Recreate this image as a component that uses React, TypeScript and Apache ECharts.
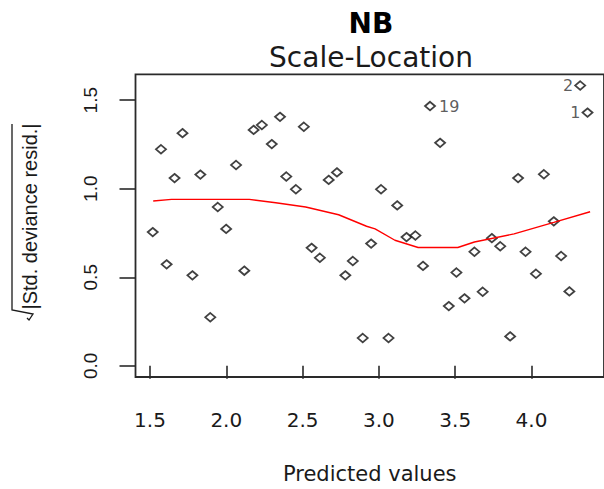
import { useEffect, useRef } from "react";
import * as echarts from "echarts";

// Fitted values (x) and sqrt(|standardized deviance residuals|) (y), ordered by x
const predicted = [
  1.518, 1.572, 1.609, 1.661, 1.713, 1.778, 1.83, 1.895, 1.944, 1.999, 2.064, 2.118, 2.179,
  2.233, 2.298, 2.352, 2.393, 2.456, 2.508, 2.559, 2.613, 2.671, 2.725, 2.78, 2.829, 2.894,
  2.949, 3.014, 3.063, 3.12, 3.181, 3.239, 3.289, 3.335, 3.401, 3.458, 3.508, 3.561, 3.626,
  3.68, 3.74, 3.795, 3.86, 3.912, 3.961, 4.029, 4.081, 4.146, 4.194, 4.248, 4.319, 4.367,
];
const sqrtAbsResid = [
  0.755, 1.223, 0.573, 1.06, 1.314, 0.511, 1.08, 0.274, 0.897, 0.773, 1.134, 0.537, 1.332,
  1.36, 1.252, 1.406, 1.069, 0.997, 1.35, 0.666, 0.61, 1.05, 1.092, 0.511, 0.592, 0.157,
  0.69, 0.997, 0.157, 0.906, 0.727, 0.736, 0.564, 1.467, 1.259, 0.337, 0.527, 0.381, 0.644,
  0.418, 0.721, 0.675, 0.166, 1.06, 0.644, 0.52, 1.082, 0.816, 0.62, 0.42, 1.583, 1.43,
];

// Observations flagged with their id (the three largest residuals)
const flaggedIndex = [33, 50, 51];
const flaggedId = ["19", "2", "1"];

// Smoothed trend line
const smoothX = [
  1.521, 1.641, 2.151, 2.324, 2.52, 2.736, 2.919, 2.975, 3.105, 3.257, 3.517, 3.626, 3.886,
  4.146, 4.384,
];
const smoothY = [
  0.931, 0.94, 0.94, 0.921, 0.897, 0.853, 0.788, 0.773, 0.709, 0.668, 0.668, 0.699, 0.745,
  0.81, 0.87,
];

const xTicks = [1.5, 2.0, 2.5, 3.0, 3.5, 4.0];
const yTicks = [0.0, 0.5, 1.0, 1.5];

const TEXT = "#1a1a1a";
const AXIS = "#2a2a2a";

export default function App() {
  const ref = useRef<HTMLDivElement>(null);

  useEffect(() => {
    if (!ref.current) return;
    const chart = echarts.init(ref.current, undefined, { renderer: "svg" });

    // label side follows plot.lm's text.id rule: right of the point unless
    // the point lies in the right half of the flagged points' range
    const fx = flaggedIndex.map((i) => predicted[i]);
    const midFlag = (Math.min(...fx) + Math.max(...fx)) / 2;

    const points = predicted.map((x, i) => {
      const k = flaggedIndex.indexOf(i);
      const item: any = { value: [x, sqrtAbsResid[i]] };
      if (k >= 0) {
        item.label = {
          show: true,
          formatter: flaggedId[k],
          position: x > midFlag ? "left" : "right",
          distance: x > midFlag ? 1 : 3,
          fontFamily: "DejaVu Sans",
          fontSize: 16,
          color: "#333",
        };
      }
      return item;
    });

    const smooth = smoothX.map((x, i) => [x, smoothY[i]]);

    const option: any = {
      animation: false,
      backgroundColor: "#ffffff",
      grid: {
        left: 135.5,
        top: 74.3,
        width: 471.9,
        height: 308.1,
        show: true,
        borderColor: AXIS,
        borderWidth: 1.8,
        backgroundColor: "transparent",
      },
      xAxis: {
        type: "value",
        min: 1.405,
        max: 4.475,
        splitLine: { show: false },
        axisLine: { show: false },
        axisTick: {
          show: true,
          customValues: xTicks,
          length: 13,
          lineStyle: { color: AXIS, width: 1.6 },
        },
        axisLabel: {
          customValues: xTicks,
          formatter: (v: number) => v.toFixed(1),
          margin: 33,
          fontFamily: "DejaVu Sans",
          fontSize: 20,
          color: TEXT,
        },
        name: "Predicted values",
        nameLocation: "middle",
        nameGap: 86,
        nameTextStyle: { fontFamily: "DejaVu Sans", fontSize: 21, color: TEXT },
      },
      yAxis: {
        type: "value",
        min: -0.0633,
        max: 1.6463,
        splitLine: { show: false },
        axisLine: { show: false },
        axisTick: {
          show: true,
          customValues: yTicks,
          length: 16,
          lineStyle: { color: AXIS, width: 1.6 },
        },
        axisLabel: {
          customValues: yTicks,
          formatter: (v: number) => v.toFixed(1),
          rotate: 90,
          margin: 36,
          fontFamily: "Liberation Sans",
          fontSize: 19,
          color: TEXT,
        },
      },
      graphic: [
        {
          type: "text",
          x: 371,
          y: 23,
          style: {
            text: "NB",
            fontFamily: "DejaVu Sans",
            fontWeight: "bold",
            fontSize: 28,
            fill: "#000",
            align: "center",
            verticalAlign: "middle",
          },
        },
        {
          type: "text",
          x: 371,
          y: 57,
          style: {
            text: "Scale-Location",
            fontFamily: "DejaVu Sans",
            fontSize: 28,
            fill: TEXT,
            align: "center",
            verticalAlign: "middle",
          },
        },
        {
          type: "text",
          x: 30,
          y: 216.5,
          rotation: Math.PI / 2,
          style: {
            text: "|Std. deviance resid.|",
            fontFamily: "Liberation Sans",
            fontSize: 20,
            fill: TEXT,
            align: "center",
            verticalAlign: "middle",
          },
        },
        {
          // square-root sign with its overbar, drawn along the rotated label
          type: "polyline",
          shape: {
            points: [
              [12, 124],
              [12, 310],
              [33, 314],
              [29, 320],
              [27, 318],
            ],
          },
          style: { stroke: TEXT, lineWidth: 1.3, fill: "none" },
        },
      ],
      series: [
        {
          type: "scatter",
          data: points,
          symbol: "diamond",
          symbolSize: [10, 8.5],
          itemStyle: { color: "#ffffff", borderColor: "#111", borderWidth: 1.8 },
          emphasis: { disabled: true },
        },
        {
          type: "line",
          data: smooth,
          showSymbol: false,
          smooth: false,
          lineStyle: { color: "#ff0000", width: 1.4 },
          emphasis: { disabled: true },
        },
      ],
    };

    chart.setOption(option);
    return () => chart.dispose();
  }, []);

  return (
    <div
      ref={ref}
      style={{ position: "absolute", left: 0, top: 0, width: 604, height: 489, background: "#fff" }}
    />
  );
}
